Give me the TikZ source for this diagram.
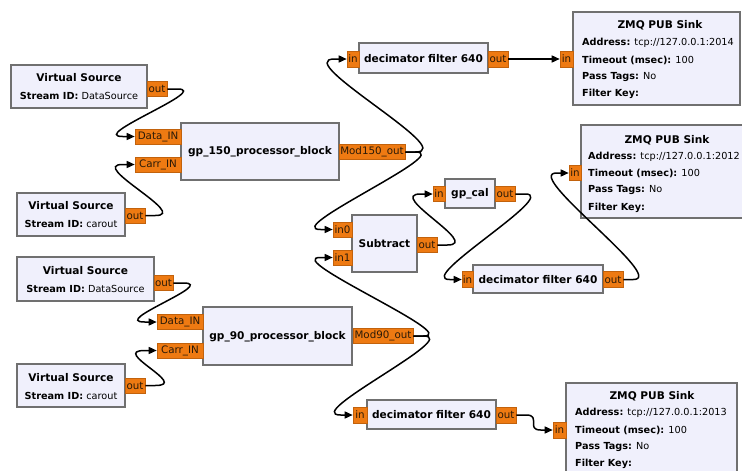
\documentclass[tikz,border=0pt]{standalone}
\usepackage{fontspec}
\setmainfont{DejaVu Sans}
\usetikzlibrary{arrows.meta,calc}

\definecolor{blockfill}{HTML}{F0F0FC}
\definecolor{blockline}{HTML}{707070}
\definecolor{portfill}{HTML}{EE7A12}
\definecolor{portline}{HTML}{C2620C}
\definecolor{porttext}{HTML}{2A1A08}

% key: value pair, key in bold
\newcommand\grckv[2]{{\bfseries #1} #2}

% connection leaving a source port and entering a sink port
\newcommand\grcwire[3]{%
  \draw[wire] (#1.east) -- ++(10,0)
    .. controls +(#3,0) and +(-#3,0) .. ($(#2.west)+(-12,0)$) -- (#2.west);}

\tikzset{
  blk/.style={draw=blockline, fill=blockfill, line width=1.5pt, inner sep=0pt},
  title/.style={inner sep=0pt, font=\fontsize{10.6}{12}\selectfont\bfseries},
  body/.style={inner sep=0pt, font=\fontsize{9.7}{11}\selectfont},
  port/.style={draw=portline, fill=portfill, line width=0.6pt, inner sep=0pt,
    minimum height=15pt, text=porttext, font=\fontsize{10.3}{12}\selectfont},
  wire/.style={line width=1.5pt, black, -{Triangle[length=8pt,width=7pt]}}
}

\begin{document}
\begin{tikzpicture}[x=1pt,y=-1pt]
\useasboundingbox (0,0) rectangle (742,471);
\fill[white] (0,0) rectangle (742,471);

% ---- virtual sources
\node[blk, minimum width=136pt, minimum height=43pt] (vs1) at (79,86.5) {};
\node[title] (vs1t) at (79,78) {Virtual Source};
\node[body] (vs1b) at (79,96) {\grckv{Stream ID:}{DataSource}};
\node[port, minimum width=20pt] (vs1out) at (157,89) {out};

\node[blk, minimum width=108pt, minimum height=43pt] (vs2) at (71,214.5) {};
\node[title] (vs2t) at (71,206) {Virtual Source};
\node[body] (vs2b) at (71,224) {\grckv{Stream ID:}{carout}};
\node[port, minimum width=20pt] (vs2out) at (135,215.5) {out};

\node[blk, minimum width=137pt, minimum height=44pt] (vs3) at (85.5,279) {};
\node[title] (vs3t) at (85.5,270.5) {Virtual Source};
\node[body] (vs3b) at (85.5,288.5) {\grckv{Stream ID:}{DataSource}};
\node[port, minimum width=19pt] (vs3out) at (163.5,283) {out};

\node[blk, minimum width=108pt, minimum height=43pt] (vs4) at (71,385.5) {};
\node[title] (vs4t) at (71,377.5) {Virtual Source};
\node[body] (vs4b) at (71,395.5) {\grckv{Stream ID:}{carout}};
\node[port, minimum width=20pt] (vs4out) at (135,385.5) {out};

% ---- processor blocks
\node[blk, minimum width=158pt, minimum height=57pt] (gp150) at (260,151.5) {};
\node[title] (gp150t) at (260,152) {gp\_150\_processor\_block};
\node[port, minimum width=46pt] (gp150din) at (158,136.5) {Data\_IN};
\node[port, minimum width=46pt] (gp150cin) at (158,164.5) {Carr\_IN};
\node[port, minimum width=66pt] (gp150out) at (372,152) {Mod150\_out};

\node[blk, minimum width=149pt, minimum height=58pt] (gp90) at (277.5,336) {};
\node[title] (gp90t) at (277.5,337) {gp\_90\_processor\_block};
\node[port, minimum width=46pt] (gp90din) at (180,322) {Data\_IN};
\node[port, minimum width=46pt] (gp90cin) at (180,350.5) {Carr\_IN};
\node[port, minimum width=60pt] (gp90out) at (383,336) {Mod90\_out};

% ---- subtract and calibration
\node[blk, minimum width=65pt, minimum height=57pt] (sub) at (384.5,243.5) {};
\node[title] (subt) at (384.5,244) {Subtract};
\node[port, minimum width=19pt] (subin0) at (342.5,229.5) {in0};
\node[port, minimum width=19pt] (subin1) at (342.5,257.5) {in1};
\node[port, minimum width=20pt] (subout) at (427,245) {out};

\node[blk, minimum width=50pt, minimum height=29pt] (cal) at (470,193.5) {};
\node[title] (calt) at (470,193.5) {gp\_cal};
\node[port, minimum width=12pt] (calin) at (439,194) {in};
\node[port, minimum width=20pt] (calout) at (505,194) {out};

% ---- decimators
\node[blk, minimum width=129pt, minimum height=30pt] (dect) at (423.5,58) {};
\node[title] (dectt) at (423.5,58.5) {decimator filter 640};
\node[port, minimum width=12pt, minimum height=16pt] (dectin) at (353,59) {in};
\node[port, minimum width=20pt, minimum height=16pt] (dectout) at (498,59) {out};

\node[blk, minimum width=130pt, minimum height=28pt] (decm) at (538,279) {};
\node[title] (decmt) at (538,279.5) {decimator filter 640};
\node[port, minimum width=11pt, minimum height=16pt] (decmin) at (467.5,279.5) {in};
\node[port, minimum width=20pt, minimum height=16pt] (decmout) at (613,279.5) {out};

\node[blk, minimum width=129pt, minimum height=29pt] (decb) at (431.5,414.5) {};
\node[title] (decbt) at (431.5,415) {decimator filter 640};
\node[port, minimum width=14pt, minimum height=16pt] (decbin) at (360,415) {in};
\node[port, minimum width=20pt, minimum height=16pt] (decbout) at (506,415) {out};

% ---- ZMQ sinks
\node[blk, minimum width=167pt, minimum height=93pt] (sink1) at (656.5,58.5) {};
\node[title] (sink1t) at (660,25) {ZMQ PUB Sink};
\node[body, anchor=west] (sink1a) at (582,43) {\grckv{Address:}{tcp://127.0.0.1:2014}};
\node[body, anchor=west] (sink1b) at (582,60) {\grckv{Timeout (msec):}{100}};
\node[body, anchor=west] (sink1c) at (582,77) {\grckv{Pass Tags:}{No}};
\node[body, anchor=west] (sink1d) at (582,93.5) {\grckv{Filter Key:}{}};
\node[port, minimum width=13pt, minimum height=16pt] (sink1in) at (566.5,59) {in};

\node[blk, minimum width=171pt, minimum height=93pt] (sink2) at (666.5,171.5) {};
\node[title] (sink2t) at (667,140) {ZMQ PUB Sink};
\node[body, anchor=west] (sink2a) at (588,156.5) {\grckv{Address:}{tcp://127.0.0.1:2012}};
\node[body, anchor=west] (sink2b) at (588,173.5) {\grckv{Timeout (msec):}{100}};
\node[body, anchor=west] (sink2c) at (588,190.5) {\grckv{Pass Tags:}{No}};
\node[body, anchor=west] (sink2d) at (588,207.5) {\grckv{Filter Key:}{}};
\node[port, minimum width=12pt] (sink2in) at (575,173) {in};

\node[blk, minimum width=171pt, minimum height=93pt] (sink3) at (651.5,429.5) {};
\node[title] (sink3t) at (652,396) {ZMQ PUB Sink};
\node[body, anchor=west] (sink3a) at (575,412.5) {\grckv{Address:}{tcp://127.0.0.1:2013}};
\node[body, anchor=west] (sink3b) at (575,430) {\grckv{Timeout (msec):}{100}};
\node[body, anchor=west] (sink3c) at (575,447) {\grckv{Pass Tags:}{No}};
\node[body, anchor=west] (sink3d) at (575,463.5) {\grckv{Filter Key:}{}};
\node[port, minimum width=13pt, minimum height=16pt] (sink3in) at (559.5,430) {in};

% ---- connections
\grcwire{vs1out}{gp150din}{35}
\grcwire{vs2out}{gp150cin}{35}
\grcwire{vs3out}{gp90din}{35}
\grcwire{vs4out}{gp90cin}{35}
\grcwire{gp150out}{dectin}{45}
\grcwire{gp150out}{subin0}{40}
\grcwire{gp90out}{subin1}{40}
\grcwire{gp90out}{decbin}{40}
\grcwire{dectout}{sink1in}{20}
\grcwire{subout}{calin}{35}
\grcwire{calout}{decmin}{35}
\grcwire{decmout}{sink2in}{35}
\grcwire{decbout}{sink3in}{15}
\end{tikzpicture}
\end{document}
